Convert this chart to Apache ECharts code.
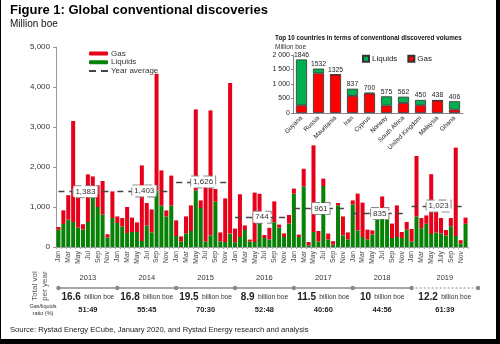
<!DOCTYPE html>
<html><head><meta charset="utf-8">
<script src="https://cdn.jsdelivr.net/npm/echarts@6/dist/echarts.min.js"></script>
<style>html,body{margin:0;padding:0;background:#fff}#c{width:500px;height:344px}</style>
</head><body><div id="c"></div>
<script>
// ---------- DATA ----------
const years = ['2013','2014','2015','2016','2017','2018','2019'];
const months = ['Jan','Feb','Mar','Apr','May','Jun','Jul','Aug','Sep','Oct','Nov','Dec'];
const tickLabelOverrides = {'Jul 2019': 'July'};

const liquids2013 = [430, 575, 685, 625, 485, 435, 625, 1350, 1000, 810, 235, 725];
const gas2013     = [70, 340, 610, 2525, 890, 135, 1190, 415, 540, 840, 85, 665];
const liquids2014 = [600, 515, 350, 375, 375, 150, 535, 365, 1415, 1040, 765, 1035];
const gas2014     = [165, 210, 650, 360, 240, 1890, 565, 575, 2915, 875, 150, 750];
const liquids2015 = [275, 135, 335, 400, 1415, 975, 135, 290, 1135, 140, 125, 335];
const gas2015     = [390, 130, 430, 640, 2025, 190, 1410, 3125, 315, 225, 1090, 3765];
const liquids2016 = [120, 250, 425, 135, 125, 725, 225, 190, 620, 485, 250, 585];
const gas2016     = [340, 1070, 115, 50, 1235, 605, 75, 290, 520, 75, 90, 215];
const liquids2017 = [1335, 250, 1515, 45, 375, 140, 1525, 185, 60, 1040, 290, 190];
const gas2017     = [125, 60, 440, 80, 2165, 260, 185, 150, 85, 60, 475, 175];
const liquids2018 = [1065, 415, 250, 185, 315, 685, 810, 710, 225, 250, 225, 435];
const gas2018     = [100, 920, 860, 250, 100, 5, 455, 105, 360, 790, 150, 190];
const liquids2019 = [135, 765, 470, 580, 325, 365, 340, 285, 520, 275, 90, 580];
const gas2019     = [315, 1510, 255, 210, 1495, 535, 385, 140, 205, 2210, 80, 155];

const yearAverage = [1383, 1403, 1626, 744, 961, 835, 1023];
const yearTotals = ['16.6', '16.8', '19.5', '8.9', '11.5', '10', '12.2'];
const gasLiquidsRatio = ['51:49', '55:45', '70:30', '52:48', '40:60', '44:56', '61:39'];

const countries = ['Guyana','Russia','Mauritania','Iran','Cyprus','Norway','South Africa','United Kingdom','Malaysia','Ghana'];
const countryTotals = [1846, 1532, 1325, 837, 700, 575, 562, 450, 438, 406];
const countryGas = [265, 1365, 1325, 590, 670, 255, 345, 265, 428, 115];
const countryLiquids = [1581, 167, 0, 247, 30, 320, 217, 185, 10, 291];

// ---------- BUILD ----------
const categories = years.flatMap(y => months.map(m => m + ' ' + y));
const liquids = [].concat(liquids2013, liquids2014, liquids2015, liquids2016, liquids2017, liquids2018, liquids2019);
const gas = [].concat(gas2013, gas2014, gas2015, gas2016, gas2017, gas2018, gas2019);

const FONT = 'Arial, "Liberation Sans", sans-serif';
const RED = '#e6001a', GREEN = '#078207';
const fmtComma = v => String(v).replace(/\B(?=(\d{3})+$)/g, ',');
const fmtSpace = v => String(v).replace(/\B(?=(\d{3})+$)/g, ' ');
const DASH_ICON = 'path://M0,0H7V2H0ZM12,0H19V2H12Z';

const avgLines = yearAverage.map((v, i) => [
  {coord: [i * 12, v], value: v},
  {coord: [i * 12 + 11, v]}
]);

const chart = echarts.init(document.getElementById('c'), null, {renderer: 'canvas'});
const option = {
  animation: false,
  textStyle: {fontFamily: FONT},
  title: [
    {text: 'Figure 1: Global conventional discoveries', left: 10, top: 4, padding: 0,
     textStyle: {fontSize: 13, fontWeight: 'bold', color: '#000', fontFamily: FONT}},
    {text: 'Million boe', left: 10, top: 19, padding: 0,
     textStyle: {fontSize: 10, fontWeight: 'normal', color: '#111', fontFamily: FONT}},
    {text: 'Top 10 countries in terms of conventional discovered volumes', left: 275, top: 35.5, padding: 0,
     textStyle: {fontSize: 6.3, fontWeight: 'bold', color: '#111', fontFamily: FONT}},
    {text: 'Million boe', left: 275, top: 43.5, padding: 0,
     textStyle: {fontSize: 6.5, fontWeight: 'normal', color: '#333', fontFamily: FONT}}
  ],
  legend: [
    {data: ['Gas', 'Liquids', {name: 'Year average', icon: DASH_ICON, itemStyle: {color: '#444'}}],
     orient: 'vertical', left: 89, top: 49.3, padding: 0,
     itemWidth: 19, itemHeight: 4, itemGap: 0.3, selectedMode: false,
     textStyle: {fontSize: 8, color: '#333', lineHeight: 8.4, padding: [0, 0, 0, -2]}},
    {data: ['Liquids ', 'Gas '], orient: 'horizontal', left: 362, top: 54.7, padding: 0, icon: 'rect',
     itemWidth: 6, itemHeight: 6, itemGap: 10, selectedMode: false,
     formatter: n => n.trim(),
     textStyle: {fontSize: 8, color: '#222', padding: [0, 0, 0, -2]}}
  ],
  grid: [
    {left: 56, right: 32, top: 47, bottom: 97},
    {left: 293, top: 55, width: 170, height: 58}
  ],
  xAxis: [
    {type: 'category', data: categories, gridIndex: 0,
     axisLine: {lineStyle: {color: '#999'}},
     axisTick: {show: true, interval: 0, length: 2, lineStyle: {color: '#aaa'}},
     axisLabel: {rotate: 90, interval: 1, fontSize: 6.8, color: '#444', margin: 4,
       formatter: v => tickLabelOverrides[v] || v.split(' ')[0]}},
    {type: 'category', data: countries, gridIndex: 1,
     axisLine: {lineStyle: {color: '#888'}}, axisTick: {show: false},
     axisLabel: {rotate: 45, interval: 0, fontSize: 6.3, color: '#222', margin: 4}}
  ],
  yAxis: [
    {type: 'value', gridIndex: 0, min: 0, max: 5000, interval: 1000,
     splitLine: {show: false},
     axisLine: {show: true, lineStyle: {color: '#999'}},
     axisTick: {show: true, length: 3, lineStyle: {color: '#999'}},
     axisLabel: {fontSize: 8, color: '#333', margin: 6, formatter: fmtComma}},
    {type: 'value', gridIndex: 1, min: 0, max: 2000, interval: 500,
     splitLine: {show: false},
     axisLine: {show: true, lineStyle: {color: '#888'}},
     axisTick: {show: true, length: 2, lineStyle: {color: '#888'}},
     axisLabel: {fontSize: 7, color: '#222', margin: 3, formatter: fmtSpace}}
  ],
  series: [
    {name: 'Liquids', type: 'bar', stack: 'm', data: liquids, xAxisIndex: 0, yAxisIndex: 0,
     barCategoryGap: '18%', itemStyle: {color: GREEN}},
    {name: 'Gas', type: 'bar', stack: 'm', data: gas, xAxisIndex: 0, yAxisIndex: 0,
     itemStyle: {color: RED}},
    {name: 'Year average', type: 'line', data: [], xAxisIndex: 0, yAxisIndex: 0,
     itemStyle: {color: '#444'}, lineStyle: {color: '#444', type: 'dashed'},
     markLine: {silent: true, symbol: 'none', animation: false,
       lineStyle: {color: '#444', type: [6, 5], width: 1.3},
       label: {show: true, position: 'middle', verticalAlign: 'middle', distance: 0,
         formatter: p => fmtComma(p.value), fontSize: 8, color: '#333',
         backgroundColor: '#fff', borderColor: '#888', borderType: 'dashed', borderWidth: 1,
         padding: [2, 2, 1, 2]},
       data: avgLines}},
    {name: 'Gas ', type: 'bar', stack: 'c', data: countryGas, xAxisIndex: 1, yAxisIndex: 1,
     barCategoryGap: '35%', itemStyle: {color: '#ff0000', borderColor: '#333', borderWidth: 0.8}},
    {name: 'Liquids ', type: 'bar', stack: 'c', data: countryLiquids, xAxisIndex: 1, yAxisIndex: 1,
     itemStyle: {color: '#00b050', borderColor: '#333', borderWidth: 0.8},
     label: {show: true, position: 'top', distance: 1, fontSize: 6.8, color: '#222',
       formatter: p => countryTotals[p.dataIndex]}}
  ]
};
chart.setOption(option);

// ---------- bottom annotation table ----------
const px = i => chart.convertToPixel({xAxisIndex: 0}, i);
const lineY = 288;
const bounds = years.map((y, i) => px(i * 12 - 0.5));
const endX = 478;
bounds.push(endX);
const centers = years.map((y, i) => i === years.length - 1 ? (bounds[i] + endX) / 2 : px(i * 12 + 5.5));
const g = [];
// frame
g.push({type: 'rect', shape: {x: 0, y: 0, width: 1, height: 344}, style: {fill: '#000'}});
g.push({type: 'rect', shape: {x: 496, y: 0, width: 4, height: 344}, style: {fill: '#000'}});
g.push({type: 'rect', shape: {x: 0, y: 339, width: 500, height: 5}, style: {fill: '#000'}});
// timeline line
g.push({type: 'line', shape: {x1: bounds[0], y1: lineY, x2: bounds[6], y2: lineY}, style: {stroke: '#8a8a8a', lineWidth: 1.3}});
g.push({type: 'line', shape: {x1: bounds[6], y1: lineY, x2: endX, y2: lineY}, style: {stroke: '#8a8a8a', lineWidth: 1.1, lineDash: [2, 2]}});
bounds.forEach(x => g.push({type: 'circle', shape: {cx: x, cy: lineY, r: 2.2}, style: {fill: '#8a8a8a'}}));
years.forEach((y, i) => {
  g.push({type: 'text', x: centers[i], y: 278, style: {text: y, font: '7.5px ' + FONT, fill: '#333', align: 'center', verticalAlign: 'middle'}});
  g.push({type: 'text', x: centers[i], y: 297.5, style: {
    text: '{b|' + yearTotals[i] + '} {s|billion boe}', align: 'center', verticalAlign: 'middle',
    rich: {b: {font: 'bold 10px ' + FONT, fill: '#222'}, s: {font: '6.7px ' + FONT, fill: '#333'}}}});
  g.push({type: 'text', x: centers[i], y: 310, style: {text: gasLiquidsRatio[i], font: 'bold 7.5px ' + FONT, fill: '#222', align: 'center', verticalAlign: 'middle'}});
});
g.push({type: 'text', x: 40, y: 286, rotation: Math.PI / 2, style: {text: 'Total vol\nper year', font: '8px ' + FONT, fill: '#555', align: 'center', verticalAlign: 'middle', lineHeight: 10}});
g.push({type: 'text', x: 43, y: 310, style: {text: 'Gas/liquids\nratio (%)', font: '5.5px ' + FONT, fill: '#333', align: 'center', verticalAlign: 'middle', lineHeight: 7}});
g.push({type: 'text', x: 10, y: 330, style: {text: 'Source: Rystad Energy ECube, January 2020, and Rystad Energy research and analysis', font: '7.6px ' + FONT, fill: '#222', verticalAlign: 'middle'}});
chart.setOption({graphic: g});
</script></body></html>
